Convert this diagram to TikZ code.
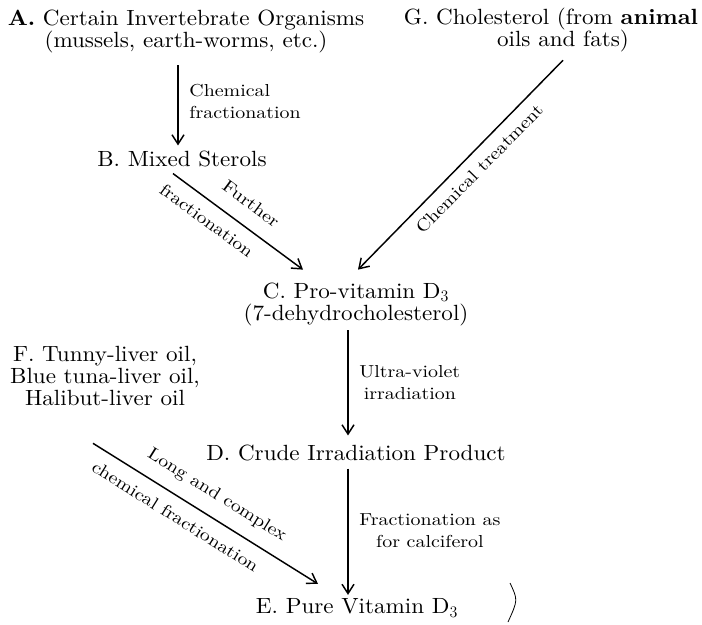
\documentclass[tikz,border=0pt]{standalone}
\usepackage{fontspec}
\setmainfont{lmroman10-regular.otf}[FakeStretch=1.05, BoldFont=lmroman10-bold.otf]
\newfontfamily\labfont{lmroman10-regular.otf}[FakeStretch=1.15]
\usetikzlibrary{arrows.meta}
\begin{document}
\begin{tikzpicture}[x=0.75pt,y=-0.75pt,
  main/.style={font=\fontsize{16.5}{16.5}\selectfont, align=center, inner sep=0pt},
  lab/.style={font=\labfont\fontsize{13}{16.5}\selectfont, inner sep=0pt},
  conn/.style={line width=1.1pt, -{Straight Barb[length=7pt,width=9pt,line width=1.1pt]}}]
\useasboundingbox (0,0) rectangle (702,624);

\node[main] (A) at (186,31) {\textbf{A.}\ Certain Invertebrate Organisms\\(mussels, earth-worms, etc.)};
\node[main] (G) at (551,30.5) {G.\ Cholesterol (from \textbf{animal}\\\hspace*{18pt}oils and fats)};
\node[main] (B) at (182,159.3) {B.\ Mixed Sterols};
\node[main] (C) at (356,304) {C.\ Pro-vitamin D$_3$\\(7-dehydrocholesterol)};
\node[main] (F) at (105,376.3) {F.\ Tunny-liver oil,\\Blue tuna-liver oil,\\Halibut-liver oil};
\node[main] (D) at (356,453.3) {D.\ Crude Irradiation Product};
\node[main] (E) at (357,608) {E.\ Pure Vitamin D$_3$};

\draw[conn] ([shift={(-8,12.5)}]A.south) -- node[lab, pos=0.45, right=8pt, align=left] {Chemical\\fractionation} ([shift={(-4,-5.6)}]B.north);
\draw[conn] ([shift={(-9,6)}]B.south) --
  node[lab, pos=0.5, sloped, above=11.5pt] {Further}
  node[lab, pos=0.34, sloped, below=8pt] {fractionation}
  ([shift={(-53,-12.6)}]C.north);
\draw[conn] ([shift={(12,7.5)}]G.south) --
  node[lab, pos=0.465, sloped, below=6.8pt] {Chemical treatment}
  ([shift={(2,-12.6)}]C.north);
\draw[conn] ([shift={(-8,4.5)}]C.south) -- node[lab, pos=0.5, right=8pt, align=center] {Ultra-violet\\irradiation} ([shift={(-8,-9.6)}]D.north);
\draw[conn] ([shift={(-8,7)}]D.south) -- node[lab, pos=0.49, right=8pt, align=center] {Fractionation as\\for calciferol} ([shift={(-9,-3.6)}]E.north);
\draw[conn] ([shift={(-12,37)}]F.south) --
  node[lab, pos=0.5, sloped, above=9.7pt] {Long and complex}
  node[lab, pos=0.41, sloped, below=8.5pt] {chemical fractionation}
  ([shift={(-39,-14.6)}]E.north);

\draw[line width=0.6pt] (510,583) .. controls (518,600) .. (508,622);
\end{tikzpicture}
\end{document}
